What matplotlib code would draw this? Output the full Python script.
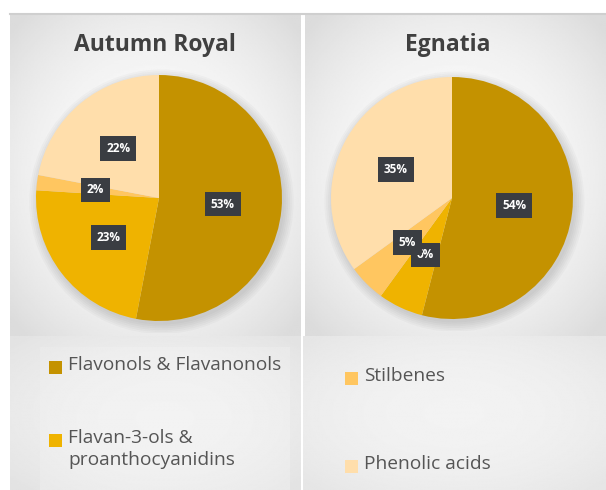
import numpy as np
import matplotlib
matplotlib.use("Agg")
import matplotlib.pyplot as plt
from matplotlib.patches import Rectangle

# data
categories = ["Flavonols & Flavanonols", "Flavan-3-ols &\nproanthocyanidins",
              "Stilbenes", "Phenolic acids"]
autumn_royal = [53, 23, 2, 22]
egnatia = [54, 6, 5, 35]
titles = ["Autumn Royal", "Egnatia"]
colors = ["#C49200", "#EFB300", "#FFC660", "#FFDEAB"]

W, H = 606, 490
fig = plt.figure(figsize=(W / 100, H / 100), dpi=100)
bg = fig.add_axes([0, 0, 1, 1])
bg.axis("off")


def panel(x0, x1, y0, y1, lo=0.86, hi=0.985):
    # soft radial shading like the office chart area
    xx, yy = np.meshgrid(np.linspace(-1, 1, 200), np.linspace(-1, 1, 200))
    d = np.clip(np.sqrt(xx ** 2 + yy ** 2) / 1.35, 0, 1)
    img = hi - (hi - lo) * d ** 2.2
    bg.imshow(img, cmap="gray", vmin=0, vmax=1, extent=[x0, x1, y1, y0],
              aspect="auto", interpolation="bilinear")


bg.plot([10, W], [14.5, 14.5], color="#cfcfcf", lw=1.5)
panel(10, 301, 15, 336)
panel(305, W, 15, 336)
panel(10, 301, 336, H, lo=0.89, hi=0.94)
panel(40, 290, 347, H, lo=0.915, hi=0.95)
panel(303, W, 336, H, lo=0.9, hi=0.95)
bg.set_xlim(0, W)
bg.set_ylim(H, 0)

font = ["Open Sans", "DejaVu Sans"]

pies = [(autumn_royal, 159, 198, 123), (egnatia, 452, 198, 121)]
for (vals, cx, cy, r), title in zip(pies, titles):
    ax = fig.add_axes([0, 0, 1, 1])
    # soft shadow under the pie
    for k in range(6):
        ax.add_patch(plt.Circle((0.02, -0.03), 1.0 + 0.015 * k, color="k",
                                alpha=0.025, lw=0))
    wedges, _, autotexts = ax.pie(vals, colors=colors, startangle=90,
                                  counterclock=False,
                                  autopct=lambda p: "%d%%" % round(p),
                                  pctdistance=0.52, radius=1,
                                  wedgeprops=dict(lw=0))
    for t in autotexts:
        t.set_color("white")
        t.set_fontsize(8.5)
        t.set_fontweight("bold")
        t.set_family(font)
        t.set_bbox(dict(boxstyle="square,pad=0.5", fc="#3a3d42", ec="none"))
    ax.set_xlim(-1.1, 1.1)
    ax.set_ylim(-1.1, 1.1)
    ax.set_position([(cx - 1.1 * r) / W, 1 - (cy + 1.1 * r) / H,
                     2.2 * r / W, 2.2 * r / H])
    ax.axis("off")
    bg.text(cx - 4, 45, title, ha="center", va="center", fontsize=16.5,
            fontweight="bold", color="#404040", family=font)

# legend drawn in the two lower panels
leg_pos = [(49, 367), (49, 440), (345, 378), (345, 466)]
for (lx, ly), lab, c in zip(leg_pos, categories, colors):
    bg.add_patch(Rectangle((lx, ly - 6.5), 13, 13, fc=c, ec="none"))
    bg.text(lx + 19, ly - 11, lab, ha="left", va="top", fontsize=13.8,
            color="#555555", family=font, linespacing=1.3)

fig.savefig("out.png", dpi=100)
